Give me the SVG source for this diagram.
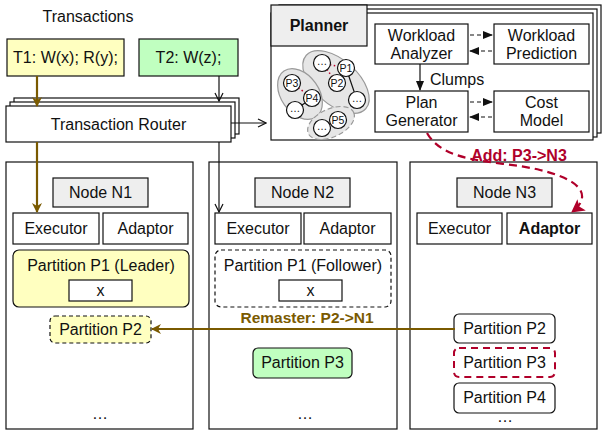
<svg xmlns="http://www.w3.org/2000/svg" width="603" height="432" viewBox="0 0 603 432">
<style>
text{font-family:"Liberation Sans",Arial,sans-serif;font-size:16px;fill:#111;text-anchor:middle}
.b{stroke:#111;stroke-width:1.2;fill:#fff}
.g{fill:#eeeeee}
.y{fill:#ffffc0}
.gr{fill:#c0ffc0}
.d{stroke-dasharray:4,3}
.bold{font-weight:bold}
.sm{font-size:10.5px}
.brown{stroke:#7a5a00;stroke-width:2.2;fill:none}
.blk{stroke:#111;stroke-width:1.2;fill:none}
.blob{fill:#e6e6e6;stroke:#999;stroke-width:1.2}
.c{fill:#fff;stroke:#111;stroke-width:1.2}
.rd{stroke:#c0002a;stroke-width:1.5;stroke-dasharray:1.5,2.5;fill:none}
</style>
<defs>
<marker id="mb" markerWidth="10" markerHeight="10" refX="9" refY="5" orient="auto" markerUnits="userSpaceOnUse"><path d="M0,0 L10,5 L0,10 L3,5 z" fill="#7a5a00"/></marker>
<marker id="mo" markerWidth="10" markerHeight="10" refX="9" refY="5" orient="auto" markerUnits="userSpaceOnUse"><path d="M1,1 L9,5 L1,9" fill="none" stroke="#111" stroke-width="1.2"/></marker>
<marker id="mf" markerWidth="10" markerHeight="10" refX="9" refY="5" orient="auto" markerUnits="userSpaceOnUse"><path d="M0,1 L10,5 L0,9 z" fill="#111"/></marker>
<marker id="mr" markerWidth="14" markerHeight="14" refX="12" refY="7" orient="auto" markerUnits="userSpaceOnUse"><path d="M0,0 L13,7 L0,14 L3,7 z" fill="#b0002a"/></marker>
</defs>

<text x="88" y="22">Transactions</text>

<g id="t1"><rect class="b y" x="7" y="39" width="117" height="37"/><text x="65.5" y="63">T1: W(x); R(y);</text></g>
<g id="t2"><rect class="b gr" x="139" y="39" width="99" height="37"/><text x="188.5" y="63">T2: W(z);</text></g>

<g id="router">
<rect class="b" x="14" y="98" width="225" height="36"/>
<rect class="b" x="10" y="102" width="225" height="36"/>
<rect class="b" x="6" y="106" width="225" height="36"/>
<text x="118.5" y="130">Transaction Router</text>
</g>

<g id="planner">
<rect class="b" x="279" y="5" width="322" height="128"/>
<rect class="b" x="275" y="9" width="322" height="128"/>
<rect class="b" x="271" y="13" width="322" height="127"/>
<rect class="b g" x="271" y="5" width="96" height="41"/>
<text class="bold" x="319" y="31">Planner</text>
</g>

<g id="clusters">
<ellipse class="blob" cx="336" cy="82" rx="40" ry="22" transform="rotate(42 336 82)"/>
<ellipse class="blob" cx="300" cy="94" rx="28" ry="19" transform="rotate(55 300 94)"/>
<ellipse class="blob" cx="331" cy="123" rx="25" ry="14" transform="rotate(-25 331 123)" stroke-dasharray="5,3"/>
<line class="rd" x1="322" y1="63" x2="346" y2="68"/>
<line class="rd" x1="322" y1="63" x2="337" y2="83"/>
<line class="blk" x1="346" y1="68" x2="357" y2="100"/>
<line class="rd" x1="292" y1="83" x2="312" y2="98"/>
<line class="blk" x1="312" y1="98" x2="295" y2="110"/>
<line class="rd" x1="322" y1="128" x2="338" y2="120"/>
<circle class="c" cx="322" cy="63" r="8.5"/><text class="sm" x="322" y="65">…</text>
<circle class="c" cx="346" cy="68" r="8.5"/><text class="sm" x="346" y="72">P1</text>
<circle class="c" cx="337" cy="83" r="8.5"/><text class="sm" x="337" y="87">P2</text>
<circle class="c" cx="357" cy="100" r="8.5"/><text class="sm" x="357" y="102">…</text>
<circle class="c" cx="292" cy="83" r="8.5"/><text class="sm" x="292" y="87">P3</text>
<circle class="c" cx="312" cy="98" r="8.5"/><text class="sm" x="312" y="102">P4</text>
<circle class="c" cx="295" cy="110" r="8.5"/><text class="sm" x="295" y="112">…</text>
<circle class="c" cx="322" cy="128" r="8.5"/><text class="sm" x="322" y="130">…</text>
<circle class="c" cx="338" cy="120" r="8.5"/><text class="sm" x="338" y="124">P5</text>
</g>

<g id="wa"><rect class="b" x="375" y="24" width="93" height="40"/><text x="421.5" y="41">Workload</text><text x="421.5" y="59">Analyzer</text></g>
<g id="wp"><rect class="b" x="494" y="24" width="95" height="40"/><text x="541.5" y="41">Workload</text><text x="541.5" y="59">Prediction</text></g>
<g id="pg"><rect class="b" x="375" y="91" width="93" height="41"/><text x="421.5" y="108">Plan</text><text x="421.5" y="126">Generator</text></g>
<g id="cm"><rect class="b" x="494" y="91" width="95" height="41"/><text x="541.5" y="108">Cost</text><text x="541.5" y="126">Model</text></g>

<g id="n1">
<rect class="b" x="6" y="162" width="187" height="267"/>
<rect class="b g" x="53" y="178" width="95" height="29"/><text x="100.5" y="198">Node N1</text>
<rect class="b" x="13" y="213" width="86" height="31"/><text x="56" y="234">Executor</text>
<rect class="b" x="103" y="213" width="85" height="31"/><text x="145.5" y="234">Adaptor</text>
<rect class="b y" x="13" y="250" width="176" height="57" rx="6"/><text x="101" y="271">Partition P1 (Leader)</text>
<rect class="b" x="69" y="280" width="63" height="21"/><text x="100.5" y="296">x</text>
<rect class="b y d" x="50" y="316" width="101" height="27" rx="5"/><text x="100.5" y="335">Partition P2</text>
<text x="100" y="419">…</text>
</g>

<g id="n2">
<rect class="b" x="209" y="162" width="188" height="267"/>
<rect class="b g" x="255" y="178" width="95" height="29"/><text x="302.5" y="198">Node N2</text>
<rect class="b" x="215" y="213" width="86" height="31"/><text x="258" y="234">Executor</text>
<rect class="b" x="304" y="213" width="87" height="31"/><text x="347.5" y="234">Adaptor</text>
<rect class="b d" x="215" y="250" width="176" height="57" rx="6"/><text x="303" y="271">Partition P1 (Follower)</text>
<rect class="b" x="279" y="280" width="63" height="21"/><text x="310.5" y="296">x</text>
<rect class="b gr" x="253" y="348" width="99" height="30" rx="5"/><text x="302.5" y="368">Partition P3</text>
<text x="305" y="419">…</text>
</g>

<g id="n3">
<rect class="b" x="410" y="162" width="187" height="267"/>
<rect class="b g" x="457" y="178" width="95" height="29"/><text x="504.5" y="198">Node N3</text>
<rect class="b" x="417" y="213" width="85" height="31"/><text x="459.5" y="234">Executor</text>
<rect class="b" x="507" y="213" width="85" height="31"/><text class="bold" x="549.5" y="234">Adaptor</text>
<rect class="b" x="454" y="314" width="101" height="29" rx="5"/><text x="504.5" y="334">Partition P2</text>
<rect x="454" y="348" width="101" height="29" rx="5" fill="#fff" stroke="#b0002a" stroke-width="2" stroke-dasharray="7,5"/><text x="504.5" y="368">Partition P3</text>
<rect class="b" x="454" y="383" width="101" height="30" rx="5"/><text x="504.5" y="403">Partition P4</text>
<text x="505" y="422">…</text>
</g>

<g id="connectors">
<line class="brown" x1="37" y1="76" x2="37" y2="106" marker-end="url(#mb)"/>
<line class="brown" x1="37" y1="142" x2="37" y2="212" marker-end="url(#mb)"/>
<line class="blk" x1="219" y1="76" x2="219" y2="101" marker-end="url(#mo)"/>
<line class="blk" x1="219" y1="142" x2="219" y2="212" marker-end="url(#mo)"/>
<line class="blk" x1="231" y1="123" x2="266" y2="123" marker-end="url(#mo)"/>
<line class="blk d" x1="470" y1="35" x2="492" y2="35" marker-end="url(#mf)"/>
<line class="blk d" x1="492" y1="51" x2="470" y2="51" marker-end="url(#mf)"/>
<line class="blk d" x1="470" y1="102" x2="492" y2="102" marker-end="url(#mf)"/>
<line class="blk d" x1="492" y1="117" x2="470" y2="117" marker-end="url(#mf)"/>
<line class="blk" x1="420" y1="64" x2="420" y2="90" marker-end="url(#mf)"/>
<text x="430" y="85" style="text-anchor:start">Clumps</text>
<line class="brown" x1="455" y1="329" x2="152" y2="329" marker-end="url(#mb)"/>
<text class="bold" x="307" y="323" style="fill:#7a5a00;font-size:15.5px">Remaster: P2-&gt;N1</text>
<path d="M427,133 C445,165 500,160 540,170 C590,182 588,200 572,212" fill="none" stroke="#b0002a" stroke-width="2.2" stroke-dasharray="8,5" marker-end="url(#mr)"/>
<text class="bold" x="519" y="161" style="fill:#b0002a">Add: P3-&gt;N3</text>
</g>
</svg>
